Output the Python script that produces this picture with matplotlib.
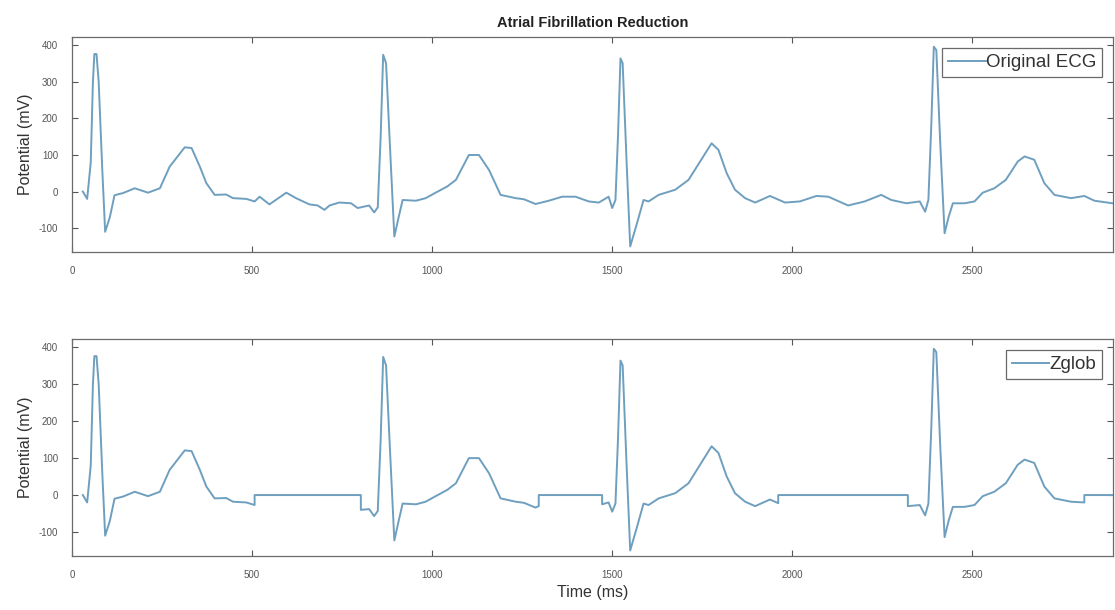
import matplotlib
matplotlib.use("Agg")
import matplotlib.pyplot as plt

plt.rcParams['font.family'] = ['Liberation Sans', 'DejaVu Sans']
plt.rcParams['axes.unicode_minus'] = False

# Original ECG trace (time in ms, potential in mV)
ecg_t = [30, 42, 52, 58, 62, 68, 74, 84, 92, 105, 118, 142, 174, 211, 244, 271, 313, 332,
         355, 373, 396, 428, 447, 484, 507, 521, 548, 595, 622, 659, 682, 701, 715, 742,
         775, 793, 825, 839, 849, 857, 864, 872, 884, 895, 907, 918, 955, 982, 1006, 1042,
         1066, 1102, 1130, 1158, 1190, 1232, 1255, 1287, 1324, 1361, 1398, 1435, 1463,
         1490, 1500, 1509, 1516, 1523, 1529, 1540, 1550, 1569, 1587, 1601, 1629, 1675,
         1712, 1744, 1776, 1795, 1818, 1841, 1869, 1897, 1938, 1980, 2021, 2067, 2100,
         2155, 2201, 2247, 2275, 2317, 2354, 2369, 2378, 2386, 2393, 2400, 2411, 2423,
         2434, 2446, 2478, 2506, 2529, 2561, 2593, 2626, 2645, 2672, 2700, 2728, 2774,
         2811, 2839, 2889]
ecg_v = [0, -20, 80, 300, 376, 376, 300, 60, -110, -70, -10, -4, 9, -3, 9, 68, 121, 119,
         68, 23, -9, -8, -18, -20, -27, -14, -35, -3, -18, -35, -38, -50, -38, -30,
         -32, -45, -38, -57, -43, 150, 374, 351, 100, -123, -70, -23, -25, -18, -5, 14,
         32, 100, 100, 59, -9, -18, -21, -34, -25, -14, -14, -27, -30,
         -14, -45, -23, 150, 364, 351, 80, -150, -86, -23, -27, -9, 5,
         32, 82, 132, 114, 50, 5, -18, -30, -12, -30, -27, -12, -14,
         -38, -27, -9, -23, -32, -27, -55, -23, 180, 396, 387, 130, -114,
         -70, -32, -32, -27, -3, 9, 32, 82, 96, 87, 23, -9, -18,
         -12, -25, -32]

# Zglob trace: same beats with the atrial segments flattened to zero
zglob_t = [30, 42, 52, 58, 62, 68, 74, 84, 92, 105, 118, 142, 174, 211, 244, 271, 313, 332,
           355, 373, 396, 428, 447, 484, 507, 507, 802, 802, 825, 839, 849, 857, 864, 872,
           884, 895, 907, 918, 955, 982, 1006, 1042, 1066, 1102, 1130, 1158, 1190, 1232,
           1255, 1287, 1296, 1296, 1472, 1472, 1490, 1500, 1509, 1516, 1523, 1529, 1540,
           1550, 1569, 1587, 1601, 1629, 1675, 1712, 1744, 1776, 1795, 1818, 1841, 1869,
           1897, 1938, 1961, 1961, 2321, 2321, 2354, 2369, 2378, 2386, 2393, 2400, 2411,
           2423, 2434, 2446, 2478, 2506, 2529, 2561, 2593, 2626, 2645, 2672, 2700, 2728,
           2774, 2811, 2811, 2889]
zglob_v = [0, -20, 80, 300, 376, 376, 300, 60, -110, -70, -10, -4, 9, -3, 9, 68, 121, 119,
           68, 23, -9, -8, -18, -20, -27, 0, 0, -40, -38, -57, -43, 150, 374, 351,
           100, -123, -70, -23, -25, -18, -5, 14, 32, 100, 100, 59, -9, -18,
           -21, -34, -30, 0, 0, -25, -20, -45, -23, 150, 364, 351, 80,
           -150, -86, -23, -27, -9, 5, 32, 82, 132, 114, 50, 5, -18,
           -30, -12, -22, 0, 0, -30, -27, -55, -23, 180, 396, 387, 130,
           -114, -70, -32, -32, -27, -3, 9, 32, 82, 96, 87, 23, -9,
           -18, -20, 0, 0]

xticks = [0, 500, 1000, 1500, 2000, 2500]
yticks = [-100, 0, 100, 200, 300, 400]

line_color = '#6f9fbf'
tick_color = '#555555'

fig = plt.figure(figsize=(11.15, 6.1), dpi=100)
ax1 = fig.add_axes([0.0646, 0.587, 0.9334, 0.352])
ax2 = fig.add_axes([0.0646, 0.0885, 0.9334, 0.3555])

panels = [(ax1, ecg_t, ecg_v, 'Original ECG'), (ax2, zglob_t, zglob_v, 'Zglob')]
for ax, t, v, name in panels:
    ax.plot(t, v, color=line_color, linewidth=1.4, label=name)
    ax.set_xlim(0, 2890)
    ax.set_ylim(-165, 422)
    ax.set_xticks(xticks)
    ax.set_yticks(yticks)
    ax.tick_params(direction='in', top=True, right=True, length=4, width=0.8,
                   labelsize=7, colors=tick_color, labelcolor=tick_color, pad=10)
    for s in ax.spines.values():
        s.set_color('#6a6a6a')
        s.set_linewidth(0.9)
    ax.set_ylabel('Potential (mV)', fontsize=11.5, color='#333333', labelpad=4)
    leg = ax.legend(loc='upper right', fontsize=13.5, frameon=True, fancybox=False,
                    handlelength=2.0, handletextpad=0.0, borderpad=0.3,
                    borderaxespad=0.6)
    leg.get_frame().set_edgecolor('#444444')
    leg.get_frame().set_linewidth(0.9)
    for txt in leg.get_texts():
        txt.set_color('#333333')

ax1.set_title('Atrial Fibrillation Reduction', fontsize=10.5, fontweight='bold',
              color='#222222', pad=7)
ax2.set_xlabel('Time (ms)', fontsize=11.5, color='#333333', labelpad=4)

fig.savefig('out.png', dpi=100)
